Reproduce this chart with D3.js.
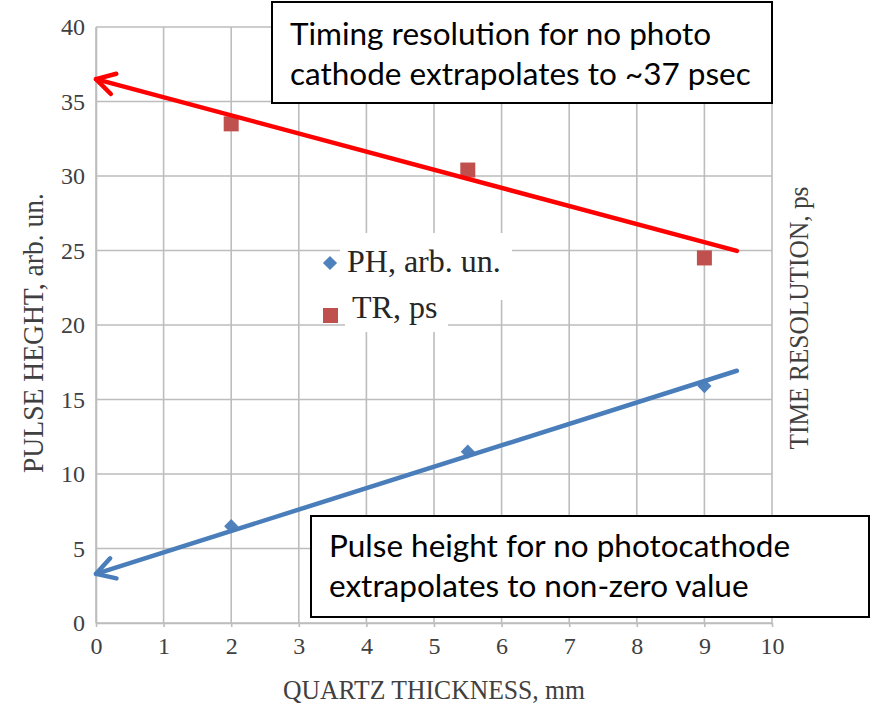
<!DOCTYPE html>
<html>
<head>
<meta charset="utf-8">
<script src="https://cdn.jsdelivr.net/npm/d3@7"></script>
<style>
  body { margin: 0; background: #fff; }
  svg { display: block; }
</style>
</head>
<body>
<div id="chart"></div>
<script>
// Chart data
var thickness = [2, 5.5, 9];
var pulseHeight = [6.5, 11.5, 15.9];
var timeRes = [33.5, 30.4, 24.5];
var xTicks = [0, 1, 2, 3, 4, 5, 6, 7, 8, 9, 10];
var yTicks = [0, 5, 10, 15, 20, 25, 30, 35, 40];
// extrapolation arrows: [start, tip] in data units
var trArrow = [[9.48, 24.97], [0, 36.5]];
var phArrow = [[9.48, 16.93], [0, 3.3]];
var legendLabels = ["PH, arb. un.", "TR, ps"];
var topNote = ["Timing resolution for no photo", "cathode extrapolates to ~37 psec"];
var bottomNote = ["Pulse height for no photocathode", "extrapolates to non-zero value"];

var W = 873, H = 707;
var svg = d3.select("#chart").append("svg")
    .attr("width", W)
    .attr("height", H);

var x = d3.scaleLinear().domain([0, 10]).range([96, 772]);
var y = d3.scaleLinear().domain([0, 40]).range([623, 27]);

var gridColor = "#bdbdbd";
var tickFont = "'Liberation Serif', 'Times New Roman', serif";

// Grid
svg.append("g").selectAll("line.v")
    .data(xTicks)
    .enter().append("line")
    .attr("x1", function(d) { return x(d); })
    .attr("x2", function(d) { return x(d); })
    .attr("y1", y(40))
    .attr("y2", y(0))
    .attr("stroke", gridColor)
    .attr("stroke-width", 1.6);
svg.append("g").selectAll("line.h")
    .data(yTicks)
    .enter().append("line")
    .attr("x1", x(0))
    .attr("x2", x(10))
    .attr("y1", function(d) { return y(d); })
    .attr("y2", function(d) { return y(d); })
    .attr("stroke", gridColor)
    .attr("stroke-width", 1.6);

// Axes
var xAxis = svg.append("g")
    .attr("transform", "translate(0," + y(0) + ")")
    .call(d3.axisBottom(x).tickValues(xTicks).tickSize(4).tickSizeOuter(0).tickFormat(d3.format("d")));
xAxis.select(".domain").attr("stroke", gridColor).attr("stroke-width", 1.6);
xAxis.selectAll(".tick line").attr("stroke", gridColor).attr("stroke-width", 1.6);
xAxis.selectAll("text")
    .attr("y", 14)
    .attr("fill", "#404040")
    .style("font-family", tickFont)
    .style("font-size", "24px");

var yAxis = svg.append("g")
    .attr("transform", "translate(" + x(0) + ",0)")
    .call(d3.axisLeft(y).tickValues(yTicks).tickSize(0).tickFormat(d3.format("d")));
yAxis.select(".domain").attr("stroke", gridColor).attr("stroke-width", 1.6);
yAxis.selectAll("text")
    .attr("x", -11)
    .attr("fill", "#404040")
    .style("font-family", tickFont)
    .style("font-size", "24px");

// Axis titles
svg.append("text")
    .text("QUARTZ THICKNESS, mm")
    .attr("x", 283)
    .attr("y", 699)
    .attr("textLength", 302)
    .attr("lengthAdjust", "spacingAndGlyphs")
    .attr("fill", "#404040")
    .style("font-family", tickFont)
    .style("font-size", "28px");
svg.append("text")
    .text("PULSE HEGHT, arb. un.")
    .attr("transform", "translate(43,333) rotate(-90)")
    .attr("text-anchor", "middle")
    .attr("textLength", 280)
    .attr("lengthAdjust", "spacingAndGlyphs")
    .attr("fill", "#404040")
    .style("font-family", tickFont)
    .style("font-size", "30px");
svg.append("text")
    .text("TIME RESOLUTION, ps")
    .attr("transform", "translate(808,318) rotate(-90)")
    .attr("text-anchor", "middle")
    .attr("textLength", 263)
    .attr("lengthAdjust", "spacingAndGlyphs")
    .attr("fill", "#404040")
    .style("font-family", tickFont)
    .style("font-size", "27px");

// Legend backing (hides grid like the original)
svg.append("rect").attr("x", 340).attr("y", 233).attr("width", 172).attr("height", 67).attr("fill", "#fff");
svg.append("rect").attr("x", 345).attr("y", 300).attr("width", 103).attr("height", 32).attr("fill", "#fff");

var blue = "#4f81bd", red = "#c0504d";
// square turned 45 degrees = diamond marker
var diamond = d3.symbol().type(d3.symbolSquare).size(100);

// Legend
svg.append("path").attr("d", diamond).attr("transform", "translate(330,263) rotate(45)").attr("fill", blue);
svg.append("rect").attr("x", 323).attr("y", 308).attr("width", 15).attr("height", 15).attr("fill", red);
svg.selectAll("text.leg")
    .data(legendLabels)
    .enter().append("text")
    .text(function(d) { return d; })
    .attr("x", function(d, i) { return i == 0 ? 347 : 352; })
    .attr("y", function(d, i) { return i == 0 ? 272 : 318; })
    .attr("fill", "#262626")
    .style("font-family", tickFont)
    .style("font-size", "32px");

// Data markers
svg.selectAll("rect.tr")
    .data(thickness)
    .enter().append("rect")
    .attr("x", function(d) { return x(d) - 7.5; })
    .attr("y", function(d, i) { return y(timeRes[i]) - 7.5; })
    .attr("width", 15)
    .attr("height", 15)
    .attr("fill", red);
svg.selectAll("path.ph")
    .data(thickness)
    .enter().append("path")
    .attr("d", diamond)
    .attr("transform", function(d, i) { return "translate(" + x(d) + "," + y(pulseHeight[i]) + ") rotate(45)"; })
    .attr("fill", blue);

// Extrapolation arrows
function DrawArrow(pts, color) {
    var x0 = x(pts[0][0]), y0 = y(pts[0][1]);
    var x1 = x(pts[1][0]), y1 = y(pts[1][1]);
    var ang = Math.atan2(y0 - y1, x0 - x1);
    var len = 21, spread = Math.PI / 6;
    var g = svg.append("g")
	.attr("fill", "none")
	.attr("stroke", color)
	.attr("stroke-width", 4.5)
	.attr("stroke-linecap", "round")
	.attr("stroke-linejoin", "round");
    g.append("line").attr("x1", x0).attr("y1", y0).attr("x2", x1).attr("y2", y1);
    g.append("path")
	.attr("d", "M" + (x1 + len * Math.cos(ang - spread)) + "," + (y1 + len * Math.sin(ang - spread)) +
	      "L" + x1 + "," + y1 +
	      "L" + (x1 + len * Math.cos(ang + spread)) + "," + (y1 + len * Math.sin(ang + spread)));
}
DrawArrow(trArrow, "#ff0000");
DrawArrow(phArrow, "#4a7ebb");

// Note boxes
var noteFont = "Lato, 'Open Sans', sans-serif";
function DrawNote(lines, bx, by, bw, bh, tx, ty) {
    svg.append("rect")
	.attr("x", bx).attr("y", by)
	.attr("width", bw).attr("height", bh)
	.attr("fill", "#fff")
	.attr("stroke", "#000")
	.attr("stroke-width", 2);
    svg.selectAll(null)
	.data(lines)
	.enter().append("text")
	.text(function(d) { return d; })
	.attr("x", tx)
	.attr("y", function(d, i) { return ty + i * 40; })
	.attr("fill", "#000")
	.style("font-family", noteFont)
	.style("font-size", "31.5px");
}
DrawNote(topNote, 272, 2, 500, 101, 290, 45);
DrawNote(bottomNote, 311, 516, 558, 101, 329, 557);
</script>
</body>
</html>
